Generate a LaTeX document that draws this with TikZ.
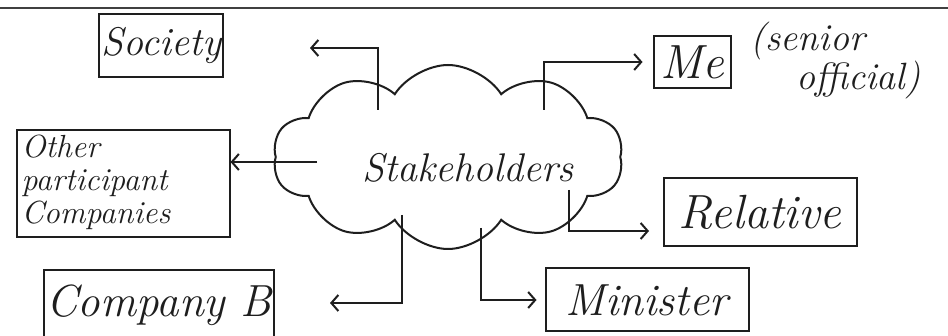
\documentclass[tikz,border=0pt]{standalone}
\usepackage{fontspec}
\usetikzlibrary{shapes.symbols,arrows.meta}
\definecolor{ink}{HTML}{1E1E1E}
\begin{document}
\begin{tikzpicture}[x=1pt,y=-1pt,
  hand/.style={text=ink, font=\fontsize{#1}{#1}\selectfont\itshape},
  box/.style={draw=ink, line width=2pt, inner sep=2pt, hand=#1},
  conn/.style={draw=ink, line width=2pt, -{Straight Barb[length=7pt,width=16pt,line width=2pt]}},
  puff/.style={cloud, draw=ink, line width=2pt, cloud puffs=10, cloud puff arc=115, aspect=1.9}]
\useasboundingbox (0,0) rectangle (948,336);
\fill[white] (0,0) rectangle (948,336);
\clip (0,0) rectangle (948,336);
\draw[line width=2.5pt, ink!85] (0,8) -- (948,8);
% boxes
\node[box=40, minimum width=118pt, minimum height=63pt] (soc) at (161,46) {Society};
\node[box=48, minimum width=77pt, minimum height=52pt] (me) at (692,62) {Me};
\node[hand=38, anchor=north west, inner sep=0pt] (sen) at (750,22)
  {\renewcommand\arraystretch{0.88}\begin{tabular}{@{}l@{}}(senior\\\hspace*{46pt}official)\end{tabular}};
\node[draw=ink, line width=2pt, inner sep=2pt, text=ink, minimum width=213pt, minimum height=107pt] (oth) at (123,184)
  {\makebox[203pt][l]{\fontsize{32}{36}\selectfont\itshape\renewcommand\arraystretch{0.92}\begin{tabular}{@{}l@{}}Other\\participant\\Companies\end{tabular}}};
\node[box=48, minimum width=193pt, minimum height=68pt] (rel) at (760,212) {Relative};
\node[box=45, minimum width=218pt, minimum height=70pt] (cb) at (159,305) {Company B};
\node[box=45, minimum width=203pt, minimum height=63pt] (min) at (647,300) {Minister};
% cloud
\node[puff, minimum width=350pt, minimum height=184pt] (stake) at (448,157) {};
\node[hand=40] (stxt) at (468,168) {Stakeholders};
% connectors
\coordinate (socS) at (378,110); \coordinate (socE) at (310,48);
\draw[conn] (socS) |- (socE);
\coordinate (meS) at (544,110);
\draw[conn, shorten >=10pt] (meS) |- (me.west);
\coordinate (othS) at (317,162);
\draw[conn] (othS) -- (othS -| oth.east);
\coordinate (relS) at (569,190); \coordinate (relE) at (649,231);
\draw[conn] (relS) |- (relE);
\coordinate (minS) at (481,228);
\draw[conn, shorten >=8pt] (minS) |- (min.west);
\coordinate (cbS) at (402,215); \coordinate (cbE) at (330,303);
\draw[conn] (cbS) |- (cbE);
\end{tikzpicture}
\end{document}
